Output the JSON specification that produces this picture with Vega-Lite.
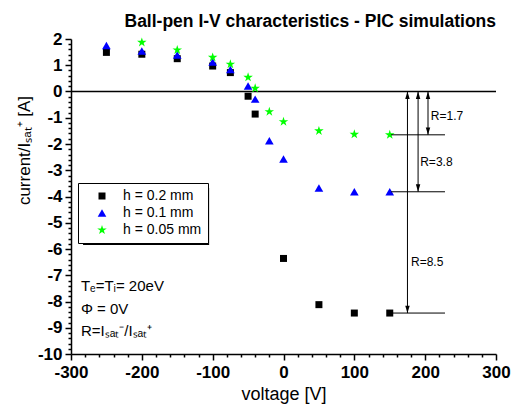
{
  "$schema": "https://vega.github.io/schema/vega-lite/v6.json",
  "width": 425,
  "height": 315,
  "autosize": {"type": "none"},
  "padding": {"left": 71, "top": 39, "right": 16, "bottom": 58},
  "background": "white",
  "title": {"text": "Ball-pen I-V characteristics - PIC simulations", "anchor": "end", "frame": "group", "font": "Liberation Sans", "fontSize": 17.5, "fontWeight": "bold", "color": "black", "offset": 0},
  "config": {
    "view": {"stroke": null},
    "legend": {"orient": "none", "legendX": 7, "legendY": 144, "fillColor": "white", "strokeColor": "black", "padding": 6, "labelFont": "Liberation Sans", "labelFontSize": 14, "labelColor": "black", "symbolOffset": 11, "labelOffset": 14, "rowPadding": 3, "symbolStrokeWidth": 0, "cornerRadius": 0, "titlePadding": 0}
  },
  "datasets": {
    "pts": [
      {"series": "h = 0.2 mm", "v": -250, "i": 1.49},
      {"series": "h = 0.2 mm", "v": -200, "i": 1.42},
      {"series": "h = 0.2 mm", "v": -150, "i": 1.25},
      {"series": "h = 0.2 mm", "v": -100, "i": 0.97},
      {"series": "h = 0.2 mm", "v": -75, "i": 0.72},
      {"series": "h = 0.2 mm", "v": -50, "i": -0.18},
      {"series": "h = 0.2 mm", "v": -40, "i": -0.86},
      {"series": "h = 0.2 mm", "v": 0, "i": -6.36},
      {"series": "h = 0.2 mm", "v": 50, "i": -8.12},
      {"series": "h = 0.2 mm", "v": 100, "i": -8.44},
      {"series": "h = 0.2 mm", "v": 150, "i": -8.44},
      {"series": "h = 0.1 mm", "v": -250, "i": 1.75},
      {"series": "h = 0.1 mm", "v": -200, "i": 1.54},
      {"series": "h = 0.1 mm", "v": -150, "i": 1.39},
      {"series": "h = 0.1 mm", "v": -100, "i": 1.12},
      {"series": "h = 0.1 mm", "v": -75, "i": 0.84},
      {"series": "h = 0.1 mm", "v": -50, "i": 0.21},
      {"series": "h = 0.1 mm", "v": -40, "i": -0.29},
      {"series": "h = 0.1 mm", "v": -20, "i": -1.88},
      {"series": "h = 0.1 mm", "v": 0, "i": -2.57},
      {"series": "h = 0.1 mm", "v": 50, "i": -3.68},
      {"series": "h = 0.1 mm", "v": 100, "i": -3.82},
      {"series": "h = 0.1 mm", "v": 150, "i": -3.82},
      {"series": "h = 0.05 mm", "v": -200, "i": 1.87},
      {"series": "h = 0.05 mm", "v": -150, "i": 1.58},
      {"series": "h = 0.05 mm", "v": -100, "i": 1.30},
      {"series": "h = 0.05 mm", "v": -75, "i": 1.04},
      {"series": "h = 0.05 mm", "v": -50, "i": 0.54},
      {"series": "h = 0.05 mm", "v": -40, "i": 0.12},
      {"series": "h = 0.05 mm", "v": -20, "i": -0.77},
      {"series": "h = 0.05 mm", "v": 0, "i": -1.15},
      {"series": "h = 0.05 mm", "v": 50, "i": -1.50},
      {"series": "h = 0.05 mm", "v": 100, "i": -1.63},
      {"series": "h = 0.05 mm", "v": 150, "i": -1.65}
    ],
    "arrows": [
      {"v": 175, "i": 0, "i2": -8.44},
      {"v": 190, "i": 0, "i2": -3.82},
      {"v": 204, "i": 0, "i2": -1.65}
    ],
    "hlines": [
      {"v": 152, "v2": 228, "i": -1.65},
      {"v": 152, "v2": 228, "i": -3.82},
      {"v": 152, "v2": 228, "i": -8.44}
    ],
    "rlabels": [
      {"v": 208, "i": -0.92, "label": "R=1.7"},
      {"v": 193, "i": -2.67, "label": "R=3.8"},
      {"v": 180, "i": -6.48, "label": "R=8.5"}
    ],
    "info": [
      {"v": -286, "i": -7.59, "label": "Tₑ=Tᵢ= 20eV"},
      {"v": -286, "i": -8.49, "label": "Φ = 0V"},
      {"v": -286, "i": -9.3, "label": "R=Iₛₐₜ⁻/Iₛₐₜ⁺"}
    ]
  },
  "encoding": {
    "x": {
      "field": "v", "type": "quantitative",
      "scale": {"domain": [-300, 300], "nice": false, "zero": false},
      "axis": {
        "values": [-300,-280,-260,-240,-220,-200,-180,-160,-140,-120,-100,-80,-60,-40,-20,0,20,40,60,80,100,120,140,160,180,200,220,240,260,280,300],
        "labelExpr": "datum.value % 100 === 0 ? '' + datum.value : ''",
        "labelOverlap": false,
        "labelFlush": false,
        "tickSize": {"condition": {"test": "datum.value % 100 === 0", "value": 6}, "value": 3},
        "grid": false,
        "domainColor": "black", "domainWidth": 1.5, "tickColor": "black", "tickWidth": 1.5,
        "labelFont": "Liberation Sans", "labelFontSize": 17, "labelFontWeight": "bold", "labelColor": "black", "labelPadding": 4,
        "title": "voltage [V]", "titleFont": "Liberation Sans", "titleFontSize": 18, "titleFontWeight": "normal", "titleColor": "black", "titlePadding": 5
      }
    },
    "y": {
      "field": "i", "type": "quantitative",
      "scale": {"domain": [-10, 2], "nice": false, "zero": false},
      "axis": {
        "values": [-10,-9.8,-9.6,-9.4,-9.2,-9,-8.8,-8.6,-8.4,-8.2,-8,-7.8,-7.6,-7.4,-7.2,-7,-6.8,-6.6,-6.4,-6.2,-6,-5.8,-5.6,-5.4,-5.2,-5,-4.8,-4.6,-4.4,-4.2,-4,-3.8,-3.6,-3.4,-3.2,-3,-2.8,-2.6,-2.4,-2.2,-2,-1.8,-1.6,-1.4,-1.2,-1,-0.8,-0.6,-0.4,-0.2,0,0.2,0.4,0.6,0.8,1,1.2,1.4,1.6,1.8,2],
        "labelExpr": "abs(datum.value - round(datum.value)) < 0.01 ? '' + round(datum.value) : ''",
        "labelOverlap": false,
        "labelFlush": false,
        "tickSize": {"condition": {"test": "abs(datum.value - round(datum.value)) < 0.01", "value": 6}, "value": 3},
        "grid": false,
        "domainColor": "black", "domainWidth": 1.5, "tickColor": "black", "tickWidth": 1.5,
        "labelFont": "Liberation Sans", "labelFontSize": 17, "labelFontWeight": "bold", "labelColor": "black", "labelPadding": 3,
        "title": "current/Iₛₐₜ⁺ [A]", "titleFont": "Liberation Sans", "titleFontSize": 17, "titleFontWeight": "normal", "titleColor": "black", "titlePadding": 4, "titleY": 111
      }
    }
  },
  "layer": [
    {
      "data": {"name": "pts"},
      "mark": {"type": "rect", "color": "black"},
      "encoding": {
        "x": {"datum": -283, "scale": {"domain": [-300, 300], "nice": false, "zero": false}},
        "x2": {"datum": -105},
        "y": {"datum": -3.68, "scale": {"domain": [-10, 2], "nice": false, "zero": false}},
        "y2": {"datum": -5.85}
      },
      "transform": [{"filter": "datum.v === -250 && datum.series === 'h = 0.2 mm'"}]
    },
    {
      "data": {"name": "pts"},
      "transform": [{"filter": "datum.v === -250 && datum.series === 'h = 0.2 mm'"}],
      "mark": {"type": "rule", "color": "black", "strokeWidth": 1.5},
      "encoding": {
        "x": {"datum": -300, "scale": {"domain": [-300, 300], "nice": false, "zero": false}},
        "x2": {"datum": 300},
        "y": {"datum": 0, "scale": {"domain": [-10, 2], "nice": false, "zero": false}}
      }
    },
    {
      "data": {"name": "pts"},
      "mark": {"type": "point", "filled": true, "opacity": 1, "strokeWidth": 0},
      "encoding": {
        "color": {"field": "series", "type": "ordinal", "title": null, "scale": {"domain": ["h = 0.2 mm", "h = 0.1 mm", "h = 0.05 mm"], "range": ["#000000", "#0000ff", "#00ff00"]}},
        "shape": {"field": "series", "type": "ordinal", "title": null, "scale": {"domain": ["h = 0.2 mm", "h = 0.1 mm", "h = 0.05 mm"], "range": ["square", "triangle-up", "M0,-1L0.2245,-0.309L0.951,-0.309L0.363,0.118L0.588,0.809L0,0.382L-0.588,0.809L-0.363,0.118L-0.951,-0.309L-0.2245,-0.309Z"]}},
        "size": {"field": "series", "type": "ordinal", "title": null, "scale": {"domain": ["h = 0.2 mm", "h = 0.1 mm", "h = 0.05 mm"], "range": [49, 100, 120]}}
      }
    },
    {
      "data": {"name": "arrows"},
      "mark": {"type": "rule", "color": "black", "strokeWidth": 1},
      "encoding": {"y2": {"field": "i2"}}
    },
    {
      "data": {"name": "arrows"},
      "mark": {"type": "point", "filled": true, "color": "black", "opacity": 1, "strokeWidth": 0, "size": 220, "shape": "M0,0L0.3,1L-0.3,1Z"}
    },
    {
      "data": {"name": "arrows"},
      "mark": {"type": "point", "filled": true, "color": "black", "opacity": 1, "strokeWidth": 0, "size": 220, "shape": "M0,0L0.3,-1L-0.3,-1Z"},
      "encoding": {"y": {"field": "i2", "type": "quantitative", "scale": {"domain": [-10, 2], "nice": false, "zero": false}}}
    },
    {
      "data": {"name": "hlines"},
      "mark": {"type": "rule", "color": "black", "strokeWidth": 1},
      "encoding": {"x2": {"field": "v2"}}
    },
    {
      "data": {"name": "rlabels"},
      "mark": {"type": "text", "align": "left", "baseline": "middle", "font": "Liberation Sans", "fontSize": 12, "color": "black"},
      "encoding": {"text": {"field": "label"}}
    },
    {
      "data": {"name": "info"},
      "mark": {"type": "text", "align": "left", "baseline": "alphabetic", "font": "Liberation Sans", "fontSize": 15, "color": "black"},
      "encoding": {"text": {"field": "label"}}
    }
  ]
}
